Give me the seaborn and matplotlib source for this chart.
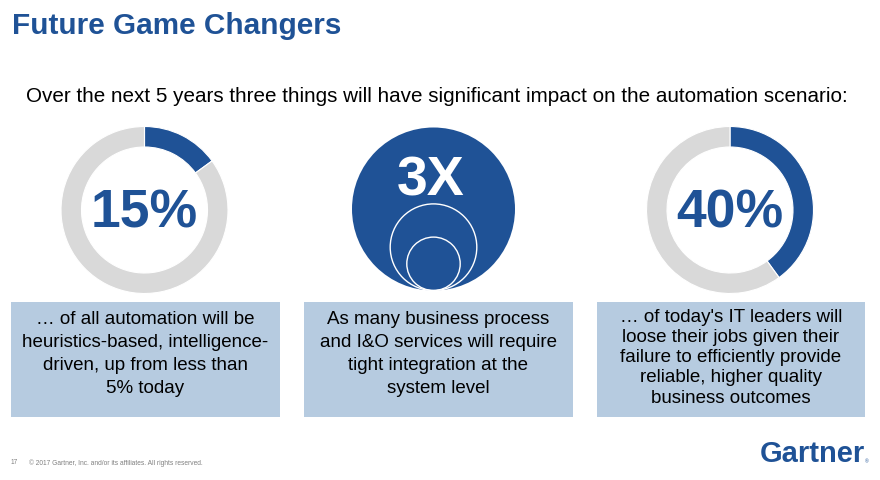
import matplotlib.pyplot as plt
from matplotlib.patches import Circle, Rectangle
import seaborn as sns

sns.set_theme(style="white")
plt.rcParams["font.family"] = ["Liberation Sans", "DejaVu Sans"]

BLUE = "#1f5296"
GREY = "#d9d9d9"
BOX = "#b6cbe0"

# share, centre x, box left, box width, label, box text, text top, line step
panels = [
    (15, 144.5, 11, 269, "15%",
     ["… of all automation will be", "heuristics-based, intelligence-",
      "driven, up from less than", "5% today"], 320, 22.7),
    (None, 433.5, 304, 269, "3X",
     ["As many business process", "and I&O services will require",
      "tight integration at the", "system level"], 320, 22.7),
    (40, 730, 597, 268, "40%",
     ["… of today's IT leaders will", "loose their jobs given their",
      "failure to efficiently provide", "reliable, higher quality",
      "business outcomes"], 317, 20.3),
]

W, H = 880, 480
fig = plt.figure(figsize=(W / 100, H / 100), dpi=100)
ax = fig.add_axes([0, 0, 1, 1])
ax.set_xlim(0, W)
ax.set_ylim(H, 0)
ax.axis("off")

ax.text(12, 26, "Future Game Changers", color=BLUE, fontsize=21.4,
        fontweight="bold", va="center", ha="left")
ax.text(437, 96, "Over the next 5 years three things will have significant impact on the automation scenario:",
        color="black", fontsize=14.85, va="center", ha="center")

CY = 210
R = 83.5
for share, cx, bx, bw, label, lines, top, step in panels:
    if share is None:
        ax.add_patch(Circle((cx, 209), 81.5, color=BLUE, lw=0))
        ax.add_patch(Circle((cx, 290.5 - 43.3), 43.3, fc="none", ec="white", lw=1))
        ax.add_patch(Circle((cx, 290.5 - 26.7), 26.7, fc="none", ec="white", lw=1))
        ax.text(cx - 3, 181, label, color="white", fontsize=40, fontweight="bold",
                ha="center", va="center")
    else:
        pie_ax = fig.add_axes([(cx - R) / W, 1 - (CY + R) / H, 2 * R / W, 2 * R / H])
        pie_ax.pie([share, 100 - share], colors=[BLUE, GREY], startangle=90,
                   counterclock=False, radius=1,
                   wedgeprops={"width": 20.5 / R, "edgecolor": "white", "linewidth": 0.8})
        pie_ax.set_xlim(-1, 1)
        pie_ax.set_ylim(-1, 1)
        ax.text(cx, 214, label, color=BLUE, fontsize=38.5, fontweight="bold",
                ha="center", va="center", zorder=5)

    ax.add_patch(Rectangle((bx, 302), bw, 115, color=BOX, lw=0))
    for i, line in enumerate(lines):
        ax.text(bx + bw / 2, top + i * step, line, color="black", fontsize=13.5,
                ha="center", va="center")

ax.text(11, 463, "17", color="#808080", fontsize=4.75, va="center")
ax.text(29, 463, "© 2017 Gartner, Inc. and/or its affiliates. All rights reserved.",
        color="#808080", fontsize=4.75, va="center")
ax.text(760, 454, "Gartner", color=BLUE, fontsize=21, fontweight="bold",
        va="center", ha="left")
ax.text(864.5, 462, "®", color=BLUE, fontsize=3.5, va="center", ha="left")

fig.savefig("out.png", dpi=100)
plt.close(fig)
